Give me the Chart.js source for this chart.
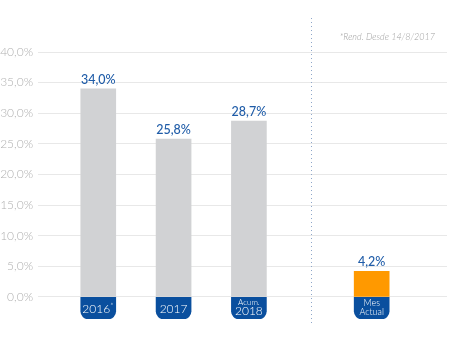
<!DOCTYPE html>
<html>
<head>
<meta charset="utf-8">
<script src="https://cdn.jsdelivr.net/npm/chart.js@4"></script>
<style>
    body { margin: 0; background: #fff; }
    #wrap { width: 450px; height: 350px; }
</style>
</head>
<body>
<div id="wrap"><canvas id="rendChart" width="450" height="350"></canvas></div>
<script>
const categories = ["2016*", "2017", "Acum.\n2018", "Mes\nActual"];
const values = [34.0, 25.8, 28.7, 4.2];
const yTicks = [0, 5, 10, 15, 20, 25, 30, 35, 40];
const footnote = "*Rend. Desde 14/8/2017";

const gray = "#d1d2d4";
const orange = "#ff9900";
const blue = "#0a4f9e";
const tabDepth = 3.6;   // height of the blue label tab under the zero line
const gap = 0.63;       // extra space before "Mes Actual"

const fmt = v => v.toFixed(1).replace(".", ",") + "%";

const xPos = categories.map((c, i) => i < 3 ? i : i + gap);

const chartEl = document.getElementById("rendChart");

const labelPlugin = {
    id: "labels",
    afterDatasetsDraw(chart) {
        const ctx = chart.ctx;
        const x = chart.scales.x;
        const y = chart.scales.y;

        ctx.save();

        // values above bars
        ctx.fillStyle = "#1f5ca8";
        ctx.font = "500 12.5px Lato";
        ctx.textAlign = "center";
        ctx.textBaseline = "alphabetic";
        chart.getDatasetMeta(0).data.forEach((bar, i) => {
            ctx.fillText(fmt(values[i]), bar.x, bar.y - 5);
        });

        // category text inside the tabs
        ctx.fillStyle = "#fff";
        const mid = y.getPixelForValue(-tabDepth / 2);
        categories.forEach((c, i) => {
            const cx = x.getPixelForValue(xPos[i]);
            const parts = c.split("\n");
            ctx.textBaseline = "middle";
            if (i === 3) {
                ctx.font = "300 9px Lato";
                ctx.fillText(parts[0], cx, mid - 5);
                ctx.fillText(parts[1], cx, mid + 4);
            } else if (parts.length === 2) {
                ctx.font = "300 8px Lato";
                ctx.fillText(parts[0], cx, mid - 6);
                ctx.font = "300 12px Lato";
                ctx.fillText(parts[1], cx, mid + 3);
            } else if (c.endsWith("*")) {
                ctx.font = "300 12px Lato";
                const w = ctx.measureText(c.slice(0, -1)).width;
                ctx.fillText(c.slice(0, -1), cx - 2, mid + 1);
                ctx.font = "300 8px Lato";
                ctx.textAlign = "left";
                ctx.fillText("*", cx - 2 + w / 2, mid - 2);
                ctx.textAlign = "center";
            } else {
                ctx.font = "300 12px Lato";
                ctx.fillText(c, cx, mid + 1);
            }
        });

        // dotted divider
        const dx = Math.round(x.getPixelForValue((xPos[2] + xPos[3]) / 2)) + 1.5;
        ctx.strokeStyle = "#8ea6c9";
        ctx.lineWidth = 1;
        ctx.setLineDash([1, 3]);
        ctx.beginPath();
        ctx.moveTo(dx, 18);
        ctx.lineTo(dx, 326);
        ctx.stroke();
        ctx.setLineDash([]);

        // footnote
        ctx.fillStyle = "#a0a0a0";
        ctx.font = "italic 300 9px Lato";
        ctx.textAlign = "right";
        ctx.textBaseline = "middle";
        ctx.fillText(footnote, 435, 37);

        ctx.restore();
    }
};

new Chart(chartEl, {
    type: "bar",
    data: {
        datasets: [{
            data: values.map((v, i) => ({ x: xPos[i], y: v })),
            backgroundColor: values.map((v, i) => i === 3 ? orange : gray),
            barThickness: 35,
            borderRadius: 0
        }, {
            data: values.map((v, i) => ({ x: xPos[i], y: -tabDepth })),
            backgroundColor: blue,
            barThickness: 35,
            borderRadius: 8
        }]
    },
    options: {
        responsive: false,
        devicePixelRatio: 1,
        animation: false,
        layout: { padding: { top: 52, right: 3, bottom: 31, left: 0 } },
        plugins: {
            legend: { display: false },
            tooltip: { enabled: false }
        },
        scales: {
            x: {
                type: "linear",
                stacked: true,
                display: false,
                offset: false,
                min: -0.8,
                max: 4.63
            },
            y: {
                stacked: true,
                min: -tabDepth,
                max: 40,
                afterBuildTicks: scale => {
                    scale.ticks = yTicks.map(v => ({ value: v }));
                },
                afterFit: scale => { scale.width = 38; },
                border: { display: false },
                grid: { color: "#e8e8e8", drawTicks: false },
                ticks: {
                    padding: 5,
                    color: "#b0b0b0",
                    font: { family: "Lato", size: 12, weight: 300 },
                    callback: v => fmt(v)
                }
            }
        }
    },
    plugins: [labelPlugin]
});
</script>
</body>
</html>
